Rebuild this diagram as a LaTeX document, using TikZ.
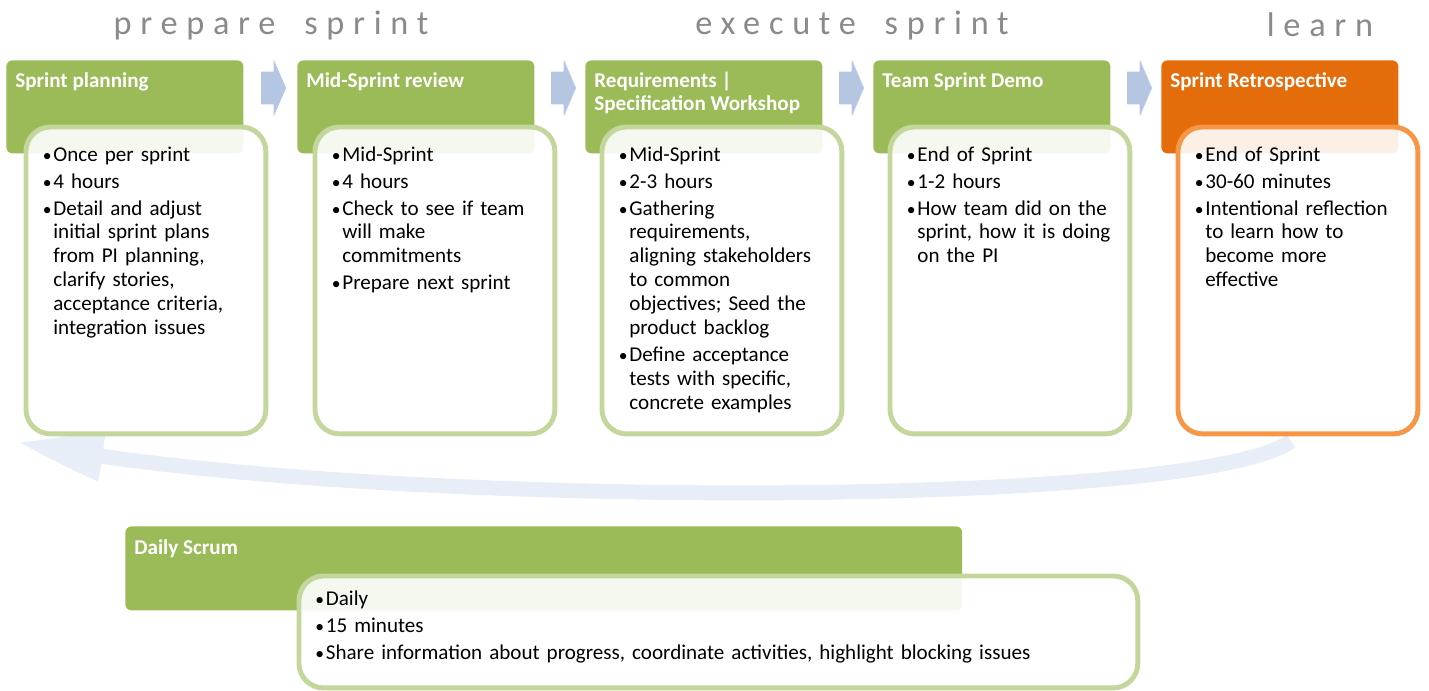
\documentclass[tikz,border=0pt]{standalone}
\usepackage{fontspec}
\setmainfont{Carlito}
\newfontfamily\phasefont[LetterSpace=25.5]{Carlito}
\usetikzlibrary{shapes.arrows,arrows.meta,bending}

\definecolor{sprintgreen}{HTML}{9BBB59}
\definecolor{retroorange}{HTML}{E46C0A}
\definecolor{listgreen}{HTML}{C3D69B}
\definecolor{listorange}{HTML}{F79646}
\definecolor{chevblue}{HTML}{B4C6E2}
\definecolor{loopblue}{HTML}{E7EEF7}
\definecolor{phasegray}{HTML}{8A8A8A}

\newcommand{\itm}{\par\parskip=1.7pt\relax\hangindent=6pt\hangafter=1\noindent\makebox[6pt][l]{\fontsize{10}{10}\selectfont\textbullet}\strut}

\begin{document}
\begin{tikzpicture}[x=0.02cm,y=-0.02cm]
    \tikzset{phase/.style={font=\phasefont\fontsize{19.5}{24}\selectfont, text=phasegray, inner sep=0},
    hdbox/.style={fill=#1, rounded corners=3.5pt, minimum width=4.74cm, minimum height=1.86cm, anchor=north west, inner sep=0},
    hdtitle/.style={anchor=north west, inner sep=0, text=white, align=left, font=\fontsize{12}{13}\selectfont\bfseries},
    listbox/.style={draw=#1, line width=2.8pt, fill=white, fill opacity=0.9, rounded corners=14pt, minimum width=4.8cm, minimum height=6.14cm, anchor=north west, inner sep=0},
    listtext/.style={anchor=north west, inner sep=0, text width=4.3cm, align=left, font=\fontsize{12}{13.6}\selectfont},
    chev/.style={single arrow, fill=chevblue, inner xsep=0, inner ysep=0.32cm, minimum height=0.5cm, single arrow head extend=0.24cm, single arrow tip angle=133},
    loop/.style={draw=loopblue, line width=0.3cm, -{Triangle[length=1.6cm,width=0.95cm,bend]}}}

    \useasboundingbox (0,0) rectangle (1429,690);

    \node[phase] (p1) at (271,25) {prepare\hspace{7pt} sprint};
    \node[phase] (p2) at (852,25) {execute\hspace{7pt} sprint};
    \node[phase] (p3) at (1320,25) {learn};

    \coordinate (loopstart) at (1291,441);
    \coordinate (loopend) at (18,442);
    \draw[loop] (loopstart) .. controls (1200,510) and (350,510) .. (loopend);

    \node[hdbox=sprintgreen] (h1) at (6,60) {};
    \node[hdbox=sprintgreen] (h2) at (297,60) {};
    \node[hdbox=sprintgreen] (h3) at (585,60) {};
    \node[hdbox=sprintgreen] (h4) at (873,60) {};
    \node[hdbox=retroorange] (h5) at (1161,60) {};

    \node[chev] (c1) at (270,88) {};
    \node[chev] (c2) at (560,88) {};
    \node[chev] (c3) at (848,88) {};
    \node[chev] (c4) at (1136,88) {};

    \node[hdtitle] (t1) at ([shift={(9,11)}]h1.north west) {\strut Sprint planning};
    \node[hdtitle] (t2) at ([shift={(9,11)}]h2.north west) {\strut Mid-Sprint review};
    \node[hdtitle] (t3) at ([shift={(9,11)}]h3.north west) {\strut Requirements |\\Specification Workshop};
    \node[hdtitle] (t4) at ([shift={(9,11)}]h4.north west) {\strut Team Sprint Demo};
    \node[hdtitle] (t5) at ([shift={(9,11)}]h5.north west) {\strut Sprint Retrospective};

    \node[listbox=listgreen] (b1) at (23.5,124.5) {};
    \node[listbox=listgreen] (b2) at (312.5,124.5) {};
    \node[listbox=listgreen] (b3) at (599.5,124.5) {};
    \node[listbox=listgreen] (b4) at (887.5,124.5) {};
    \node[listbox=listorange] (b5) at (1175.5,124.5) {};

    \node[listtext] (l1) at ([shift={(19,9.5)}]b1.north west) {\itm Once per sprint \itm 4 hours \itm Detail and adjust\newline initial sprint plans\newline from PI planning,\newline clarify stories,\newline acceptance criteria,\newline integration issues\par};
    \node[listtext] (l2) at ([shift={(19,9.5)}]b2.north west) {\itm Mid-Sprint \itm 4 hours \itm Check to see if team\newline will make\newline commitments \itm Prepare next sprint\par};
    \node[listtext] (l3) at ([shift={(19,9.5)}]b3.north west) {\itm Mid-Sprint \itm 2-3 hours \itm Gathering\newline requirements,\newline aligning stakeholders\newline to common\newline objectives; Seed the\newline product backlog \itm Define acceptance\newline tests with specific,\newline concrete examples\par};
    \node[listtext] (l4) at ([shift={(19,9.5)}]b4.north west) {\itm End of Sprint \itm 1-2 hours \itm How team did on the\newline sprint, how it is doing\newline on the PI\par};
    \node[listtext] (l5) at ([shift={(19,9.5)}]b5.north west) {\itm End of Sprint \itm 30-60 minutes \itm Intentional reflection\newline to learn how to\newline become more\newline effective\par};

    \node[hdbox=sprintgreen, minimum width=16.74cm, minimum height=1.68cm] (hd) at (125,526) {};
    \node[hdtitle] (td) at ([shift={(9,12)}]hd.north west) {\strut Daily Scrum};
    \node[listbox=listgreen, minimum width=16.78cm, minimum height=2.24cm] (bd) at (296.5,573.5) {};
    \node[listtext, text width=15.5cm] (ld) at ([shift={(18.5,4.5)}]bd.north west) {\itm Daily \itm 15 minutes \itm Share information about progress, coordinate activities, highlight blocking issues\par};
\end{tikzpicture}
\end{document}
